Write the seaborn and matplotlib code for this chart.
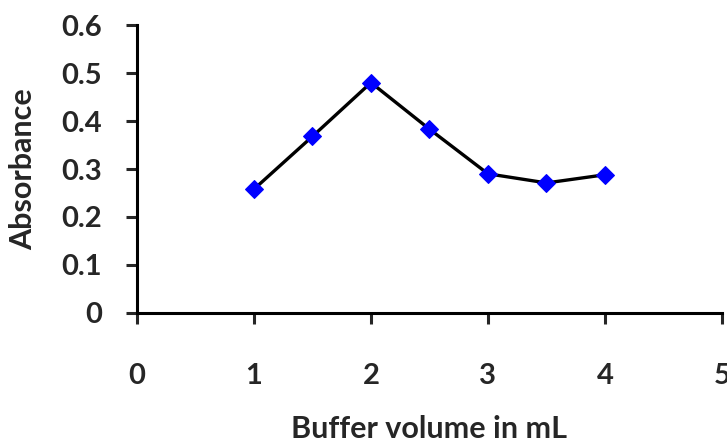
import matplotlib
matplotlib.use("Agg")
import matplotlib.pyplot as plt
import seaborn as sns
import pandas as pd

# data
buffer_ml = [1, 1.5, 2, 2.5, 3, 3.5, 4]
absorbance = [0.258, 0.368, 0.48, 0.383, 0.29, 0.271, 0.288]
x_ticks = [0, 1, 2, 3, 4, 5]
y_ticks = [0, 0.1, 0.2, 0.3, 0.4, 0.5, 0.6]
y_tick_labels = ["0", "0.1", "0.2", "0.3", "0.4", "0.5", "0.6"]

df = pd.DataFrame({"Buffer volume in mL": buffer_ml, "Absorbance": absorbance})

sns.set_style("white")
plt.rcParams['font.family'] = ['Lato', 'DejaVu Sans']
plt.rcParams['font.weight'] = 'bold'

fig = plt.figure(figsize=(7.27, 4.43), dpi=100)
ax = fig.add_axes([0.1884, 0.2935, 0.8047, 0.650])

sns.lineplot(data=df, x="Buffer volume in mL", y="Absorbance", ax=ax,
             color="black", linewidth=2.4, marker="D", markersize=9,
             markerfacecolor="#0000ff", markeredgecolor="#0000ff")

ax.set_xlim(0, 5)
ax.set_ylim(0, 0.6)
ax.set_xticks(x_ticks)
ax.set_yticks(y_ticks)
ax.set_yticklabels(y_tick_labels)

for s in ["top", "right"]:
    ax.spines[s].set_visible(False)
for s in ["left", "bottom"]:
    ax.spines[s].set_linewidth(2.2)
    ax.spines[s].set_color("black")

ax.tick_params(axis="y", direction="out", length=8, width=2.2, pad=17,
               labelsize=21, left=True)
ax.tick_params(axis="x", direction="out", length=8, width=2.2, pad=28,
               labelsize=21, bottom=True)
for lab in ax.get_xticklabels() + ax.get_yticklabels():
    lab.set_fontweight("bold")

ax.set_xlabel("Buffer volume in mL", fontsize=22, fontweight="bold")
ax.set_ylabel("Absorbance", fontsize=22, fontweight="bold")
ax.xaxis.set_label_coords(0.5, -0.355)
ax.yaxis.set_label_coords(-0.17, 0.5)

fig.savefig("out.png", dpi=100)
